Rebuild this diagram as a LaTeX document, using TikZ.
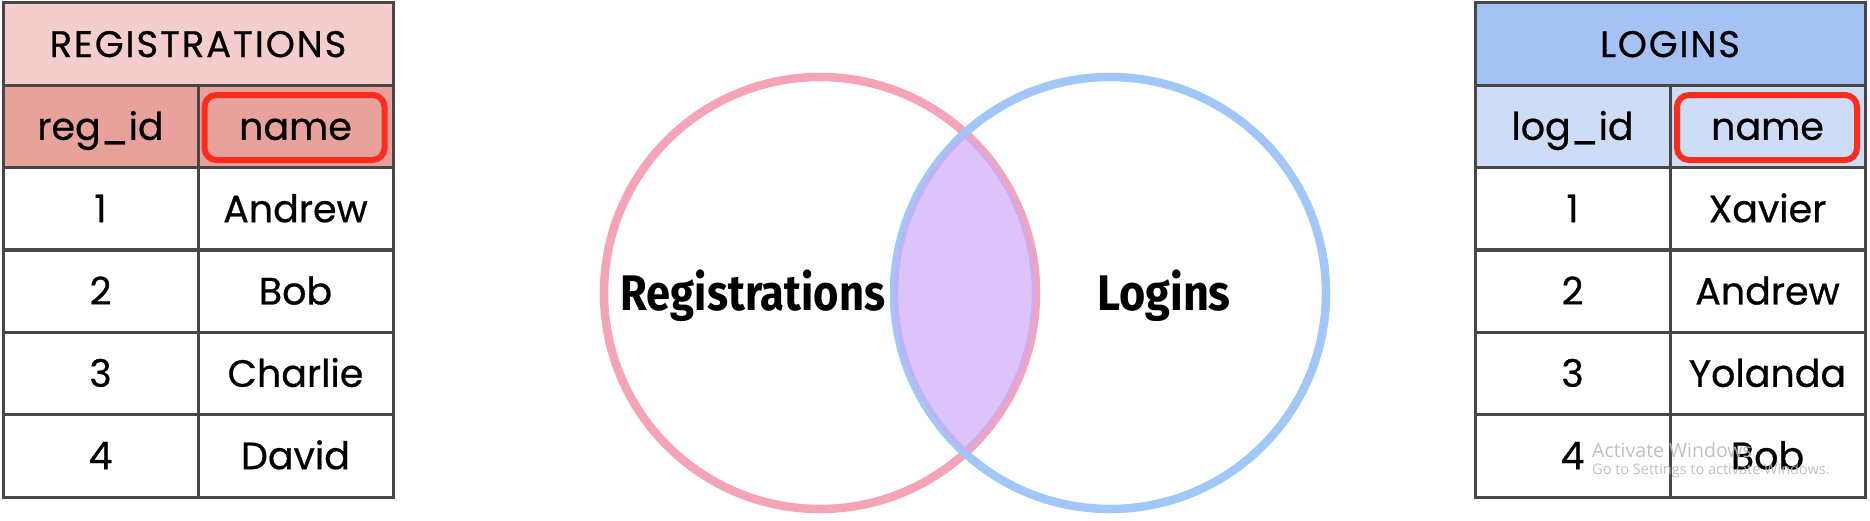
\documentclass[tikz,border=0pt]{standalone}
\usepackage{fontspec}
\setmainfont{Poppins}
\newfontfamily\tabfont{Poppins}[FakeBold=0.6]
\newfontfamily\titlefont{Poppins}[FakeBold=0.6, LetterSpace=5]
\newfontfamily\vennfont{Fira Sans}
\newfontfamily\winfont{Open Sans}
\definecolor{gridgray}{HTML}{474747}
\definecolor{regtitle}{HTML}{F4CDCC}
\definecolor{reghead}{HTML}{E9A19B}
\definecolor{logtitle}{HTML}{A4C2F4}
\definecolor{loghead}{HTML}{CCDDF5}
\definecolor{hlred}{HTML}{FF2B1C}
\definecolor{vpink}{HTML}{F5A3B6}
\definecolor{vblue}{HTML}{A0C7F7}
\definecolor{vpurple}{HTML}{CDABF9}
\tikzset{
  cell/.style={draw=gridgray, line width=3pt, inner sep=0pt, minimum height=82.33pt,
    text height=26.6pt, text depth=0pt,
    font=\tabfont\fontsize{38}{42}\selectfont, text=black},
  titlecell/.style={cell, minimum width=390pt, font=\titlefont\fontsize{37}{42}\selectfont,
    text height=25.8pt},
  lcol/.style={cell, minimum width=195pt},
  rcol/.style={cell, minimum width=195pt},
  hlbox/.style={draw=hlred, line width=6pt, rounded corners=12pt, inner sep=0pt,
    minimum width=180pt, minimum height=65pt},
  vring/.style={line width=8.5pt},
  vlabel/.style={font=\vennfont\bfseries\fontsize{50}{54}\selectfont, text=black},
  wmark/.style={text=gray!55, opacity=0.9, anchor=west, inner sep=0pt}
}
\begin{document}
\begin{tikzpicture}[x=1pt,y=-1pt]
\useasboundingbox (0,0) rectangle (1870,520);

% ---------- Left table ----------
\node[titlecell, fill=regtitle] (lt) at (198,44.15) {REGISTRATIONS};
\node[lcol, fill=reghead] (lh1) at (100.5,126.5) {reg\_id};
\node[lcol, fill=reghead] (lh2) at (295.5,126.5) {name};
\node[lcol] (la1) at (100.5,208.85) {1};
\node[lcol] (lb1) at (295.5,208.85) {Andrew};
\node[lcol] (la2) at (100.5,291.15) {2};
\node[lcol] (lb2) at (295.5,291.15) {Bob};
\node[lcol] (la3) at (100.5,373.5) {3};
\node[lcol] (lb3) at (295.5,373.5) {Charlie};
\node[lcol] (la4) at (100.5,455.85) {4};
\node[lcol] (lb4) at (295.5,455.85) {David};
\node[hlbox] (lhl) at (294.5,127.5) {};

% ---------- Right table ----------
\node[titlecell, fill=logtitle] (rt) at (1670,44.15) {LOGINS};
\node[rcol, fill=loghead] (rh1) at (1572.5,126.5) {log\_id};
\node[rcol, fill=loghead] (rh2) at (1767.5,126.5) {name};
\node[rcol] (ra1) at (1572.5,208.85) {1};
\node[rcol] (rb1) at (1767.5,208.85) {Xavier};
\node[rcol] (ra2) at (1572.5,291.15) {2};
\node[rcol] (rb2) at (1767.5,291.15) {Andrew};
\node[rcol] (ra3) at (1572.5,373.5) {3};
\node[rcol] (rb3) at (1767.5,373.5) {Yolanda};
\node[rcol] (ra4) at (1572.5,455.85) {4};
\node[rcol] (rb4) at (1767.5,455.85) {Bob};
\node[hlbox] (rhl) at (1767,127.5) {};

% ---------- Venn diagram ----------
\coordinate (cl) at (820,293);
\coordinate (cr) at (1110,293);
\draw[vring, vpink] (cl) circle[radius=216];
\draw[vring, vblue] (cr) circle[radius=216];
\begin{scope}
  \clip (cl) circle[radius=216];
  \fill[vpurple, opacity=0.7] (cr) circle[radius=216];
\end{scope}
\node[vlabel] (vreg) at (753,296) {\scalebox{0.87}[1]{Registrations}};
\node[vlabel] (vlog) at (1164,296) {\scalebox{0.9}[1]{Logins}};

% ---------- Screen watermark ----------
\node[wmark, font=\winfont\fontsize{19.5}{23}\selectfont] (wm1) at (1592,450) {Activate Windows};
\node[wmark, font=\winfont\fontsize{14.5}{17}\selectfont] (wm2) at (1592,471) {Go to Settings to activate Windows.};
\end{tikzpicture}
\end{document}
